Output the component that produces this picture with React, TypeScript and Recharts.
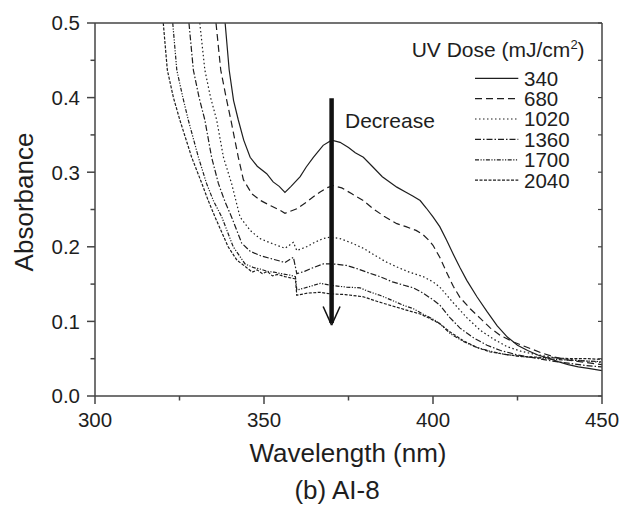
import { LineChart, Line, XAxis, YAxis, ReferenceLine, Legend } from "recharts";

// UV-vis absorbance of AI-8 after increasing UV dose
const doses = ["340", "680", "1020", "1360", "1700", "2040"];

const xTicks = [300, 325, 350, 375, 400, 425, 450];
const yTicks = [0, 0.05, 0.1, 0.15, 0.2, 0.25, 0.3, 0.35, 0.4, 0.45, 0.5];

// [wavelength nm, absorbance]
const dose340: [number, number][] = [
  [338.5, 0.5], [339.7, 0.437], [341, 0.396], [342.4, 0.37], [344, 0.343], [345.9, 0.32],
  [348, 0.308], [350.8, 0.298], [352.7, 0.287], [354.5, 0.281], [356.2, 0.273], [358, 0.281],
  [360.7, 0.294], [362.5, 0.307], [364.6, 0.32], [367.5, 0.336], [370, 0.343], [372.5, 0.34],
  [375, 0.333], [377, 0.326], [379.4, 0.32], [382, 0.308], [385, 0.294], [389.3, 0.28],
  [392, 0.273], [394, 0.268], [396.2, 0.262], [398, 0.252], [400, 0.24], [402, 0.227],
  [404, 0.209], [406, 0.19], [408, 0.172], [410, 0.155], [413, 0.133], [416, 0.113],
  [419, 0.094], [422, 0.079], [425, 0.068], [428, 0.061], [431, 0.055], [434, 0.051],
  [437, 0.046], [440, 0.042], [443, 0.039], [446, 0.037], [450, 0.034],
];

const dose680: [number, number][] = [
  [335.8, 0.5], [337.2, 0.437], [338.8, 0.4], [340.2, 0.37], [342.4, 0.32], [343.9, 0.29],
  [346.4, 0.271], [349, 0.262], [352, 0.255], [354.7, 0.249], [356.2, 0.245], [358, 0.248],
  [359.7, 0.251], [362.6, 0.26], [364.6, 0.267], [366.5, 0.273], [368.5, 0.279], [370.5, 0.282],
  [373, 0.279], [376, 0.271], [379.4, 0.262], [382, 0.252], [385.5, 0.241], [389.3, 0.231],
  [392, 0.227], [395, 0.222], [397.1, 0.216], [398.5, 0.21], [400, 0.202], [402, 0.186],
  [404, 0.166], [406, 0.147], [408, 0.132], [411, 0.117], [414, 0.104], [417, 0.091],
  [420, 0.081], [424, 0.072], [428, 0.065], [432, 0.058], [436, 0.052], [440, 0.048],
  [445, 0.045], [450, 0.042],
];

const dose1020: [number, number][] = [
  [331, 0.5], [332.5, 0.437], [334.2, 0.4], [336, 0.37], [338, 0.32], [340.4, 0.285],
  [342.9, 0.24], [345.9, 0.222], [348.8, 0.211], [351.5, 0.206], [353.8, 0.202], [356.2, 0.198],
  [358.7, 0.206], [359.7, 0.195], [362.6, 0.2], [365, 0.206], [367.5, 0.211], [369.5, 0.213],
  [372.5, 0.211], [376, 0.205], [379.4, 0.198], [383, 0.188], [386, 0.18], [389.3, 0.173],
  [393, 0.166], [397.1, 0.16], [400, 0.153], [402, 0.146], [406, 0.125], [410, 0.105],
  [414, 0.088], [418, 0.076], [422, 0.066], [426, 0.06], [430, 0.056], [435, 0.052],
  [440, 0.049], [445, 0.047], [450, 0.045],
];

const dose1360: [number, number][] = [
  [327.8, 0.5], [329.1, 0.437], [330.8, 0.4], [332.5, 0.37], [334.5, 0.32], [336.5, 0.285],
  [338.5, 0.26], [340.4, 0.24], [343.4, 0.205], [345.9, 0.194], [349, 0.188], [353, 0.183],
  [356.2, 0.179], [358.7, 0.186], [359.7, 0.164], [362, 0.167], [364.5, 0.172], [367.5, 0.177],
  [370.5, 0.177], [374.4, 0.175], [378, 0.17], [381, 0.165], [384.3, 0.16], [388, 0.153],
  [391, 0.149], [394.2, 0.145], [397, 0.138], [400, 0.129], [402, 0.122], [405, 0.105],
  [408, 0.091], [412, 0.078], [416, 0.068], [420, 0.061], [425, 0.055], [430, 0.051],
  [435, 0.047], [440, 0.044], [445, 0.041], [450, 0.039],
];

const dose1700: [number, number][] = [
  [323, 0.5], [324.2, 0.437], [326, 0.4], [327.6, 0.37], [330.6, 0.32], [333, 0.285],
  [335, 0.262], [337.5, 0.24], [340.9, 0.2], [344.4, 0.177], [347, 0.172], [349, 0.17],
  [351, 0.167], [353, 0.166], [355, 0.164], [357.7, 0.162], [359.3, 0.16], [359.7, 0.142],
  [363, 0.146], [366.6, 0.151], [370.4, 0.148], [374.4, 0.146], [378.4, 0.145], [381, 0.14],
  [384.3, 0.135], [388, 0.128], [391, 0.122], [394.2, 0.117], [397, 0.11], [400, 0.103],
  [402, 0.097], [405, 0.084], [409, 0.073], [413, 0.065], [417, 0.06], [421, 0.056],
  [426, 0.053], [431, 0.051], [436, 0.049], [441, 0.048], [445, 0.047], [450, 0.046],
];

const dose2040: [number, number][] = [
  [320.2, 0.5], [321.4, 0.437], [323.2, 0.4], [325.1, 0.37], [328.6, 0.32], [331.6, 0.285],
  [333.5, 0.262], [335.5, 0.24], [339.4, 0.2], [342, 0.182], [344.9, 0.172], [346.5, 0.166],
  [348, 0.169], [349.5, 0.164], [351, 0.167], [352.5, 0.161], [354, 0.163], [356.2, 0.16],
  [359.3, 0.157], [359.7, 0.135], [363, 0.138], [366.6, 0.139], [369.5, 0.137], [374, 0.136],
  [379.4, 0.133], [384, 0.126], [389.3, 0.119], [393, 0.114], [396.2, 0.11], [399, 0.104],
  [402, 0.097], [405, 0.086], [409, 0.074], [413, 0.065], [417, 0.059], [421, 0.056],
  [426, 0.053], [431, 0.052], [436, 0.051], [441, 0.05], [446, 0.05], [450, 0.049],
];

const seriesPoints = [dose340, dose680, dose1020, dose1360, dose1700, dose2040];

// line style per dose: solid, dash, dot, dash-dot, dash-dot-dot, short dash
const dashes = ["", "7 4", "1.5 2.5", "6 2 1.5 2", "4 1.5 1.2 1.5 1.2 1.5", "3 1.5"];

const FONT = "'Liberation Sans', Arial, Helvetica, sans-serif";
const INK = "#1e1e1e";
const AXIS = "#444";

function BottomTick(props: any) {
  const { x, y, payload } = props;
  const major = payload.value % 50 === 0;
  return (
    <g>
      <line x1={x} y1={y} x2={x} y2={y + (major ? 8 : 4.5)} stroke={AXIS} strokeWidth={1.5} />
      {major && (
        <text x={x} y={y + 16} dy="0.71em" textAnchor="middle" fontSize={20.5} fill={INK} fontFamily={FONT}>
          {payload.value}
        </text>
      )}
    </g>
  );
}

function LeftTick(props: any) {
  const { x, y, payload } = props;
  const major = Math.round(payload.value * 100) % 10 === 0;
  return (
    <g>
      <line x1={x} y1={y} x2={x - (major ? 8 : 4.5)} y2={y} stroke={AXIS} strokeWidth={1.5} />
      {major && (
        <text x={x - 15} y={y} dy="0.36em" textAnchor="end" fontSize={20.5} fill={INK} fontFamily={FONT}>
          {payload.value.toFixed(1)}
        </text>
      )}
    </g>
  );
}

function RightTick(props: any) {
  const { x, y } = props;
  return <line x1={x} y1={y} x2={x - 4} y2={y} stroke={AXIS} strokeWidth={1.2} />;
}

function TopTick(props: any) {
  const { x, y } = props;
  return <line x1={x} y1={y} x2={x} y2={y + 3} stroke={AXIS} strokeWidth={1.2} />;
}

function DoseLegend() {
  const rowY = [48.3, 68.6, 89, 109.4, 129.8, 150.2];
  return (
    <svg width={210} height={170} style={{ overflow: "visible" }}>
      <text x={11.7} y={26.7} fontSize={21} fill={INK} fontFamily={FONT}>
        UV Dose (mJ/cm
        <tspan fontSize={13} dy={-8}>2</tspan>
        <tspan dy={8}>)</tspan>
      </text>
      {doses.map((d, i) => (
        <g key={d}>
          <line x1={75} x2={118.3} y1={rowY[i]} y2={rowY[i]} stroke={INK} strokeWidth={1.2} strokeDasharray={dashes[i]} />
          <text x={124} y={rowY[i]} dy="0.36em" fontSize={20.5} fill={INK} fontFamily={FONT}>
            {d}
          </text>
        </g>
      ))}
    </svg>
  );
}

export default function App() {
  return (
    <div style={{ position: "absolute", left: 0, top: 0, width: 619, height: 505, background: "#fff" }}>
      <LineChart width={619} height={505} margin={{ top: 0, right: 0, bottom: 0, left: 0 }}>
        <XAxis
          dataKey="x"
          type="number"
          domain={[300, 450]}
          allowDataOverflow
          ticks={xTicks}
          height={109}
          tickSize={0}
          tickMargin={0}
          tickLine={false}
          axisLine={{ stroke: AXIS, strokeWidth: 1.5 }}
          tick={<BottomTick />}
          interval={0}
        />
        <XAxis
          xAxisId="top"
          orientation="top"
          type="number"
          domain={[300, 450]}
          allowDataOverflow
          ticks={xTicks}
          height={23}
          tickSize={0}
          tickMargin={0}
          tickLine={false}
          axisLine={{ stroke: AXIS, strokeWidth: 1.5 }}
          tick={<TopTick />}
          interval={0}
        />
        <YAxis
          type="number"
          domain={[0, 0.5]}
          allowDataOverflow
          ticks={yTicks}
          width={95}
          tickSize={0}
          tickMargin={0}
          tickLine={false}
          axisLine={{ stroke: AXIS, strokeWidth: 1.5 }}
          tick={<LeftTick />}
          interval={0}
        />
        <YAxis
          yAxisId="right"
          orientation="right"
          type="number"
          domain={[0, 0.5]}
          allowDataOverflow
          ticks={yTicks}
          width={17}
          tickSize={0}
          tickMargin={0}
          tickLine={false}
          axisLine={{ stroke: AXIS, strokeWidth: 1.5 }}
          tick={<RightTick />}
          interval={0}
        />

        {seriesPoints.map((pts, i) => (
          <Line
            key={doses[i]}
            name={doses[i]}
            data={pts.map(([x, y]) => ({ x, y }))}
            dataKey="y"
            type="linear"
            stroke={INK}
            strokeWidth={1.2}
            strokeDasharray={dashes[i]}
            dot={false}
            activeDot={false}
            isAnimationActive={false}
          />
        ))}

        {/* "Decrease" arrow at 370 nm */}
        <ReferenceLine segment={[{ x: 370, y: 0.399 }, { x: 370, y: 0.098 }]} stroke="#111" strokeWidth={4.5} />
        <ReferenceLine segment={[{ x: 367.5, y: 0.12 }, { x: 370, y: 0.095 }]} stroke="#111" strokeWidth={1.5} />
        <ReferenceLine segment={[{ x: 372.5, y: 0.12 }, { x: 370, y: 0.095 }]} stroke="#111" strokeWidth={1.5} />

        <Legend
          layout="vertical"
          verticalAlign="middle"
          align="center"
          content={() => <DoseLegend />}
          wrapperStyle={{ position: "absolute", left: 400, top: 30, width: 210, height: 170 }}
        />

        <text x={345} y={128} fontSize={21} fill={INK} fontFamily={FONT}>
          Decrease
        </text>
        <text x={348} y={461.7} textAnchor="middle" fontSize={26} fill={INK} fontFamily={FONT}>
          Wavelength (nm)
        </text>
        <text x={337} y={499} textAnchor="middle" fontSize={26} fill={INK} fontFamily={FONT}>
          (b) AI-8
        </text>
        <text
          x={33}
          y={202}
          textAnchor="middle"
          fontSize={26}
          fill={INK}
          fontFamily={FONT}
          transform="rotate(-90 33 202)"
        >
          Absorbance
        </text>
      </LineChart>
    </div>
  );
}
